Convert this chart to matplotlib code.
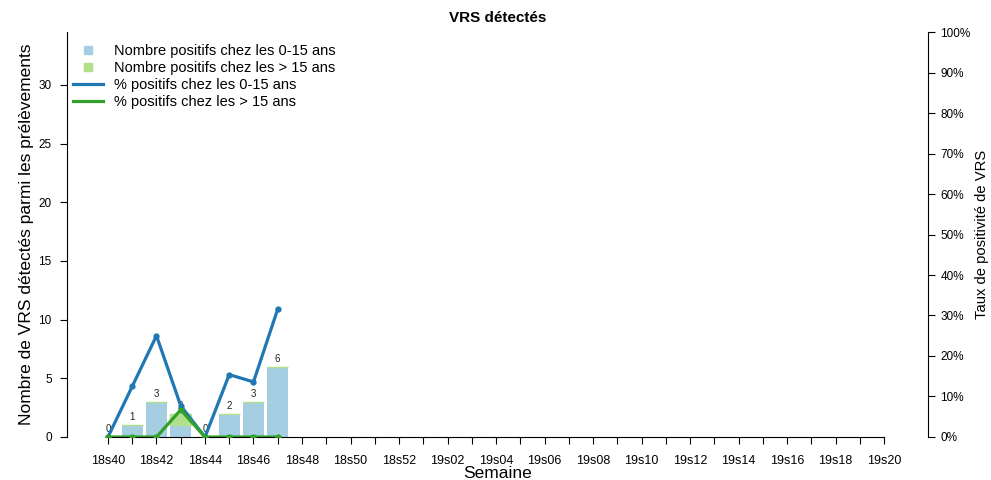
import matplotlib.pyplot as plt
import numpy as np
from matplotlib.lines import Line2D

plt.rcParams['font.family'] = ['Liberation Sans', 'DejaVu Sans']

# semaines 18s40 -> 19s20
semaines = ['18s%02d' % w for w in range(40, 53)] + ['19s%02d' % w for w in range(1, 21)]

# donnees disponibles (8 premieres semaines)
nb_0_15 = [0, 1, 3, 1, 0, 2, 3, 6]
nb_sup15 = [0, 0, 0, 1, 0, 0, 0, 0]
pct_0_15 = [0, 12.5, 25, 7.7, 0, 15.4, 13.6, 31.6]
pct_sup15 = [0, 0, 0, 6.7, 0, 0, 0, 0]

c_bleu_clair = '#a6cee3'
c_vert_clair = '#b2df8a'
c_bleu = '#1f78b4'
c_vert = '#33a02c'

x_all = np.arange(len(semaines))
x = np.arange(len(nb_0_15))

fig = plt.figure(figsize=(9.91, 4.8), dpi=100)
ax = fig.add_axes([0.0676, 0.0896, 0.8688, 0.8437])

ax.bar(x, nb_0_15, width=0.86, color=c_bleu_clair, zorder=2)
ax.bar(x, nb_sup15, width=0.86, bottom=nb_0_15, color=c_vert_clair,
       edgecolor=c_vert_clair, linewidth=1, zorder=2)
totaux = np.array(nb_0_15) + np.array(nb_sup15)
for xi, t in zip(x, totaux):
    ax.text(xi, t + 0.25, str(t), ha='center', va='bottom', fontsize=7, color='#222222')

ax.set_xlim(-1.69, 33.81)
ax.set_ylim(0, 34.5)
ax.set_yticks([0, 5, 10, 15, 20, 25, 30])
ax.set_xticks(x_all)
ax.set_xticklabels([s if i % 2 == 0 else '' for i, s in enumerate(semaines)], fontsize=9)
ax.tick_params(axis='y', labelsize=8.5, length=5, pad=6)
ax.tick_params(axis='x', length=5, pad=8)
ax.spines['top'].set_visible(False)
ax.spines['right'].set_visible(False)
ax.spines['bottom'].set_bounds(0, 32)
ax.set_xlabel('Semaine', fontsize=12.5, labelpad=-1)
ax.set_ylabel('Nombre de VRS détectés parmi les prélèvements', fontsize=12.5, labelpad=3)
ax.set_title('VRS détectés', fontsize=11, fontweight='bold', pad=7)

ax2 = ax.twinx()
ax2.plot(x, pct_0_15, color=c_bleu, linewidth=2.3, marker='o', markersize=3.5, zorder=3)
ax2.plot(x, pct_sup15, color=c_vert, linewidth=2.3, marker='o', markersize=3.5, zorder=3)
ax2.set_ylim(0, 100)
ax2.set_yticks(np.arange(0, 101, 10))
ax2.set_yticklabels(['%d%%' % v for v in range(0, 101, 10)])
ax2.tick_params(axis='y', labelsize=8.5, length=5, pad=4)
ax2.spines['top'].set_visible(False)
ax2.spines['left'].set_visible(False)
ax2.spines['bottom'].set_visible(False)
ax2.set_ylabel('Taux de positivité de VRS', fontsize=10.6, labelpad=3)

handles = [
    Line2D([], [], marker='s', linestyle='none', color=c_bleu_clair, markersize=6),
    Line2D([], [], marker='s', linestyle='none', color=c_vert_clair, markersize=6),
    Line2D([], [], color=c_bleu, linewidth=2.3),
    Line2D([], [], color=c_vert, linewidth=2.3),
]
labels = ['Nombre positifs chez les 0-15 ans', 'Nombre positifs chez les > 15 ans',
          '% positifs chez les 0-15 ans', '% positifs chez les > 15 ans']
ax2.legend(handles, labels, loc='upper left', bbox_to_anchor=(0.0, 0.985), frameon=False,
           fontsize=10.5, handlelength=2.05, handletextpad=0.8, labelspacing=0.2,
           borderaxespad=0)

fig.savefig('out.png', dpi=100)
